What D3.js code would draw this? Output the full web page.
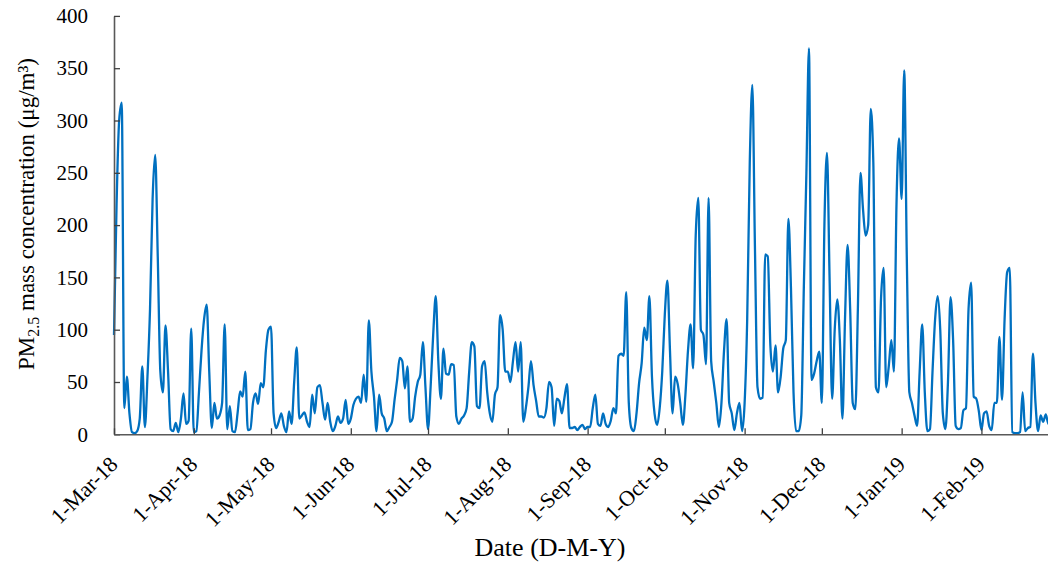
<!DOCTYPE html>
<html>
<head>
<meta charset="utf-8">
<script src="https://cdn.jsdelivr.net/npm/d3@7"></script>
<style>
  body { margin: 0; background: #fff; }
  svg { display: block; font-family: "Liberation Serif", "Times New Roman", serif; }
</style>
</head>
<body>
<div id="chart"></div>
<script>
// Daily PM2.5 (µg/m³), one array per month, 1-Mar-18 .. 28-Feb-19
const mar18 = [95, 220, 300, 317, 25, 55, 20, 2, 1, 3, 15, 65, 7, 55, 120, 225, 267, 170, 60, 40, 104, 60, 5, 3, 11, 2, 15, 39, 10, 13, 101];
const apr18 = [2, 3, 40, 80, 110, 124, 60, 6, 30, 15, 18, 30, 105, 5, 27, 3, 2, 20, 41, 36, 60, 4, 5, 30, 39, 29, 49, 45, 80, 100];
const may18 = [103, 20, 6, 12, 20, 8, 2, 22, 10, 50, 83, 15, 18, 21, 12, 7, 38, 20, 45, 47, 30, 14, 30, 12, 3, 8, 17, 11, 15, 33, 10];
const jun18 = [15, 28, 34, 36, 30, 57, 31, 109, 60, 36, 3, 38, 20, 15, 3, 7, 12, 33, 52, 73, 70, 44, 65, 12, 15, 36, 50, 57, 88, 45];
const jul18 = [5, 45, 95, 132, 70, 34, 82, 58, 57, 67, 66, 17, 10, 15, 18, 25, 60, 88, 84, 27, 25, 65, 70, 40, 20, 12, 38, 45, 114, 100, 60];
const aug18 = [60, 50, 70, 88, 60, 88, 12, 25, 45, 70, 47, 32, 17, 17, 16, 25, 50, 45, 8, 34, 32, 20, 35, 48, 6, 6, 7, 4, 7, 9, 5];
const sep18 = [7, 7, 25, 38, 10, 8, 20, 10, 7, 13, 25, 20, 75, 77, 75, 136, 30, 6, 3, 20, 49, 68, 102, 90, 132, 55, 20, 9, 25, 60];
const oct18 = [115, 147, 80, 20, 55, 48, 30, 9, 38, 80, 105, 63, 190, 226, 100, 95, 67, 226, 70, 50, 30, 7, 30, 80, 110, 30, 20, 4, 20, 30, 3];
const nov18 = [30, 110, 260, 334, 180, 45, 34, 35, 172, 170, 85, 60, 85, 40, 55, 82, 90, 206, 140, 40, 3, 3, 18, 140, 250, 369, 52, 58, 70, 79];
const dec18 = [30, 200, 269, 150, 34, 100, 129, 90, 15, 110, 181, 120, 30, 24, 120, 250, 215, 190, 200, 311, 260, 45, 40, 130, 159, 45, 65, 90, 60, 220, 283];
const jan19 = [225, 348, 170, 40, 30, 18, 8, 60, 105, 40, 3, 5, 60, 110, 132, 100, 20, 5, 50, 131, 90, 8, 5, 6, 23, 25, 120, 145, 36, 34, 22];
const feb19 = [4, 20, 22, 8, 4, 30, 30, 93, 33, 110, 155, 159, 2, 1, 1, 2, 40, 3, 6, 7, 77, 30, 3, 18, 12, 19, 10, 12];

const tickLabels = ["1-Mar-18", "1-Apr-18", "1-May-18", "1-Jun-18", "1-Jul-18", "1-Aug-18",
  "1-Sep-18", "1-Oct-18", "1-Nov-18", "1-Dec-18", "1-Jan-19", "1-Feb-19"];
const yTicks = [0, 50, 100, 150, 200, 250, 300, 350, 400];

const values = [].concat(mar18, apr18, may18, jun18, jul18, aug18, sep18, oct18, nov18, dec18, jan19, feb19);
const start = new Date(2018, 2, 1);
const data = values.map((v, i) => ({ date: d3.timeDay.offset(start, i), value: v }));
const tickDates = tickLabels.map((_, i) => d3.timeMonth.offset(start, i));

const width = 1048, height = 563;
const plotLeft = 114, plotRight = 1053.5, plotTop = 15.9, plotBottom = 434.3;

const svg = d3.select("#chart").append("svg")
  .attr("width", width)
  .attr("height", height);

const x = d3.scaleTime()
  .domain([start, d3.timeMonth.offset(start, 12)])
  .range([plotLeft, plotRight]);

const y = d3.scaleLinear()
  .domain([0, 400])
  .range([plotBottom, plotTop]);

// line first, axes on top
const line = d3.line()
  .x(d => x(d.date))
  .y(d => y(d.value))
  .curve(d3.curveMonotoneX);

svg.append("path")
  .datum(data)
  .attr("fill", "none")
  .attr("stroke", "#0070C0")
  .attr("stroke-width", 2.3)
  .attr("stroke-linejoin", "round")
  .attr("d", line);

const yAxis = svg.append("g")
  .attr("transform", `translate(${plotLeft},0)`)
  .call(d3.axisLeft(y).tickValues(yTicks).tickSizeInner(-6).tickSizeOuter(0).tickPadding(26));

const xAxis = svg.append("g")
  .attr("transform", `translate(0,${plotBottom})`)
  .call(d3.axisBottom(x).tickValues(tickDates).tickSizeInner(-6).tickSizeOuter(0)
    .tickFormat((d, i) => tickLabels[i]));

[yAxis, xAxis].forEach(g => {
  g.select(".domain").attr("stroke", "#595959").attr("stroke-width", 1.6);
  g.selectAll(".tick line").attr("stroke", "#404040").attr("stroke-width", 1.3);
  g.selectAll("text")
    .attr("fill", "#000")
    .style("font-family", "'Liberation Serif', 'Times New Roman', serif")
    .style("font-size", "21px");
});

xAxis.selectAll(".tick text")
  .style("font-size", "22px")
  .attr("y", 0)
  .attr("dy", "0.35em")
  .attr("text-anchor", "end")
  .attr("transform", "translate(-1,26) rotate(-45)");

// axis titles
const yTitle = svg.append("text")
  .attr("transform", "translate(34,214) rotate(-90)")
  .attr("text-anchor", "middle")
  .style("font-size", "23px")
  .attr("fill", "#000");
yTitle.append("tspan").text("PM");
yTitle.append("tspan").attr("dy", 5).style("font-size", "16px").text("2.5");
yTitle.append("tspan").attr("dy", -5).text(" mass concentration (μg/m³)");

svg.append("text")
  .attr("x", 550)
  .attr("y", 556)
  .attr("text-anchor", "middle")
  .style("font-size", "26px")
  .attr("fill", "#000")
  .text("Date (D-M-Y)");
</script>
</body>
</html>
